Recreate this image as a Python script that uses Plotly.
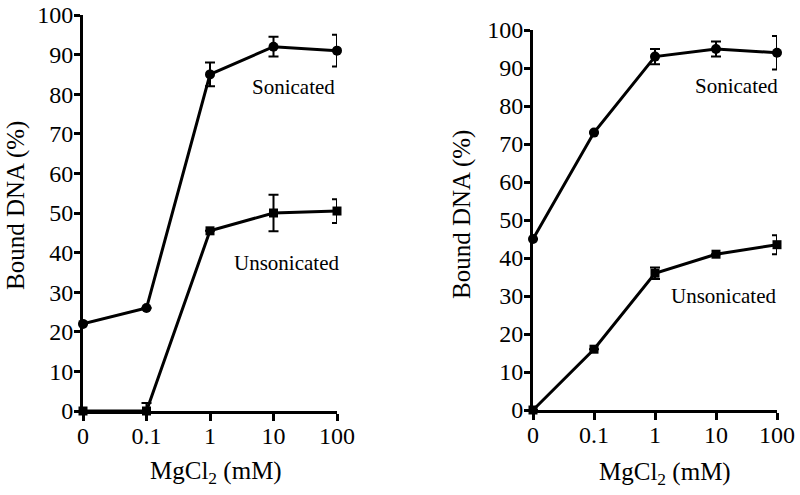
import plotly.graph_objects as go

# ---- data ----
mgcl2_labels = ["0", "0.1", "1", "10", "100"]
y_ticks = list(range(0, 101, 10))

left_sonicated = [22, 26, 85, 92, 91]
left_sonicated_err = [0, 0, 3, 2.5, 4]
left_unsonicated = [0, 0, 45.5, 50, 50.5]
left_unsonicated_err = [0, 2, 0, 4.6, 3]

right_sonicated = [45, 73, 93, 95, 94]
right_sonicated_err = [0, 0, 2, 2, 4.4]
right_unsonicated = [0, 16, 36, 41, 43.5]
right_unsonicated_err = [0, 0, 1.5, 0, 2.5]

series_names = ["Sonicated", "Unsonicated"]

FONT = "Liberation Serif, Times New Roman, serif"
BLACK = "#000000"

W, H = 800, 495


def px_x(sx):
    return sx / W


def px_y(sy):
    return (H - sy) / H


fig = go.Figure()


def add_series(y, err, symbol, xa, ya, name):
    fig.add_trace(go.Scatter(
        x=mgcl2_labels, y=y,
        mode="lines+markers",
        name=name,
        line=dict(color=BLACK, width=3),
        marker=dict(symbol=symbol, size=10 if symbol == "circle" else 9, color=BLACK),
        error_y=dict(type="data", array=err, visible=True, color=BLACK,
                     thickness=2, width=5),
        cliponaxis=False,
        xaxis=xa, yaxis=ya,
        showlegend=False,
    ))


add_series(left_sonicated, left_sonicated_err, "circle", "x", "y", series_names[0])
add_series(left_unsonicated, left_unsonicated_err, "square", "x", "y", series_names[1])
add_series(right_sonicated, right_sonicated_err, "circle", "x2", "y2", series_names[0])
add_series(right_unsonicated, right_unsonicated_err, "square", "x2", "y2", series_names[1])

axis_common = dict(
    showline=True, linecolor=BLACK, linewidth=3,
    ticks="outside", ticklen=7, tickwidth=2.5, tickcolor=BLACK,
    showgrid=False, zeroline=False, automargin=False,
    tickfont=dict(family=FONT, size=24, color=BLACK),
    ticklabeloverflow="allow",
    fixedrange=True,
)

xaxis_common = dict(axis_common, type="category", range=[0, 4],
                    categoryorder="array", categoryarray=mgcl2_labels,
                    ticklabelstandoff=-6)
yaxis_common = dict(axis_common, range=[0, 100], tickvals=y_ticks,
                    ticktext=[str(v) for v in y_ticks], ticklen=6,
                    ticklabelstandoff=-4)

fig.update_layout(
    width=W, height=H,
    margin=dict(l=0, r=0, t=0, b=0),
    paper_bgcolor="white", plot_bgcolor="white",
    showlegend=False,
    font=dict(family=FONT, color=BLACK),
    xaxis=dict(xaxis_common, domain=[px_x(83), px_x(337)], anchor="y"),
    yaxis=dict(yaxis_common, domain=[px_y(411), px_y(15)], anchor="x"),
    xaxis2=dict(xaxis_common, domain=[px_x(533), px_x(777)], anchor="y2"),
    yaxis2=dict(yaxis_common, domain=[px_y(410), px_y(30)], anchor="x2"),
)

title_font = dict(family=FONT, size=25, color=BLACK)
label_font = dict(family=FONT, size=21, color=BLACK)

annotations = [
    # axis titles
    dict(text="Bound DNA (%)", xref="paper", yref="paper",
         x=px_x(16), y=px_y(206), textangle=-90, showarrow=False,
         xanchor="center", yanchor="middle", font=title_font),
    dict(text="Bound DNA (%)", xref="paper", yref="paper",
         x=px_x(462), y=px_y(215), textangle=-90, showarrow=False,
         xanchor="center", yanchor="middle", font=title_font),
    dict(text="MgCl<sub>2</sub> (mM)", xref="paper", yref="paper",
         x=px_x(216), y=px_y(472), showarrow=False,
         xanchor="center", yanchor="middle", font=title_font),
    dict(text="MgCl<sub>2</sub> (mM)", xref="paper", yref="paper",
         x=px_x(665), y=px_y(473), showarrow=False,
         xanchor="center", yanchor="middle", font=title_font),
    # series labels
    dict(text=series_names[0], xref="x", yref="y", x=4, y=81.8,
         xanchor="right", yanchor="middle", showarrow=False, font=label_font),
    dict(text=series_names[1], xref="x", yref="y", x=4, y=37.4, xshift=4,
         xanchor="right", yanchor="middle", showarrow=False, font=label_font),
    dict(text=series_names[0], xref="x2", yref="y2", x=4, y=85.3, xshift=3,
         xanchor="right", yanchor="middle", showarrow=False, font=label_font),
    dict(text=series_names[1], xref="x2", yref="y2", x=4, y=30, xshift=1,
         xanchor="right", yanchor="middle", showarrow=False, font=label_font),
]
fig.update_layout(annotations=annotations)

# Remove the page's default 8px body margin so the figure fills the window.
fig.write_html("out.html", config={"displayModeBar": False},
               post_script="document.body.style.margin='0';")
